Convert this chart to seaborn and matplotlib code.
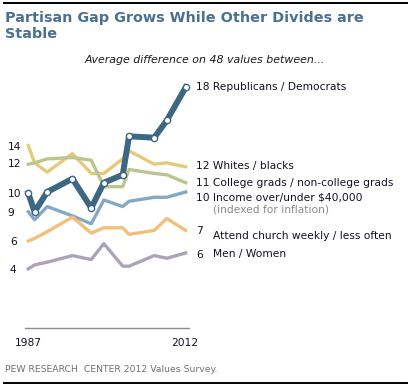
import matplotlib
matplotlib.use("Agg")
import matplotlib.pyplot as plt
import seaborn as sns
import pandas as pd
from matplotlib.lines import Line2D

# ---- data ----
years = [1987, 1988, 1990, 1994, 1997, 1999, 2002, 2003, 2007, 2009, 2012]
rep_dem = [10.0, 8.6, 10.1, 11.1, 8.9, 10.8, 11.4, 14.3, 14.2, 15.5, 18.0]
whites_blacks = [13.6, 12.3, 11.6, 13.0, 11.5, 11.5, 12.6, 13.2, 12.2, 12.3, 12.0]
college = [12.2, 12.3, 12.6, 12.7, 12.5, 10.5, 10.5, 11.8, 11.5, 11.4, 10.8]
income = [8.6, 8.0, 9.0, 8.3, 7.7, 9.5, 9.0, 9.4, 9.7, 9.7, 10.1]
church = [6.4, 6.6, 7.1, 8.2, 7.0, 7.4, 7.4, 6.9, 7.2, 8.1, 7.2]
men_women = [4.3, 4.6, 4.8, 5.3, 5.0, 6.2, 4.5, 4.5, 5.3, 5.1, 5.5]

series_names = ["Whites / blacks", "College grads / non-college grads",
                "Income over/under $40,000", "Attend church weekly / less often",
                "Men / Women", "Republicans / Democrats"]
series_values = [whites_blacks, college, income, church, men_women, rep_dem]
colors = ["#E6C97A", "#BCC68C", "#85A8C4", "#F2C07A", "#ADA3B8", "#3E6783"]

start_labels = ["14", "12", "10", "9", "6", "4"]
end_labels = ["18", "12", "11", "10", "7", "6"]

rows = []
for name, vals in zip(series_names, series_values):
    for y, v in zip(years, vals):
        rows.append({"year": y, "value": v, "series": name})
df = pd.DataFrame(rows)

W, H = 411, 388
fig = plt.figure(figsize=(W / 100, H / 100), dpi=100)
fig.patch.set_facecolor("white")

def fx(px):
    return px / W

def fy(py):
    return 1 - py / H

# axes occupying pixel box x 20..195, y 75..285
ax = fig.add_axes([fx(20), fy(285), (195 - 20) / W, (285 - 75) / H])
ax.set_xlim(1985.68, 2013.48)
ax.set_ylim(3.08, 18.93)
ax.axis("off")

others = df[df["series"] != "Republicans / Democrats"]
pal = dict(zip(series_names, colors))
sns.lineplot(data=others, x="year", y="value", hue="series", palette=pal,
             linewidth=2.4, legend=False, ax=ax, sort=False)
rep = df[df["series"] == "Republicans / Democrats"]
sns.lineplot(data=rep, x="year", y="value", color=colors[-1], linewidth=4.3,
             marker="o", markersize=4.5, markerfacecolor="white",
             markeredgecolor=colors[-1], markeredgewidth=1.0,
             legend=False, ax=ax, sort=False)

# ---- texts ----
title_color = "#4B7090"
fig.text(fx(5), fy(18), "Partisan Gap Grows While Other Divides are",
         fontsize=10.4, fontweight="bold", color=title_color, va="center", ha="left")
fig.text(fx(5), fy(33.5), "Stable",
         fontsize=10.4, fontweight="bold", color=title_color, va="center", ha="left")
fig.text(fx(205), fy(60), "Average difference on 48 values between...",
         fontsize=7.9, style="italic", color="#1a1a1a", va="center", ha="center")

txt = "#111122"
lsize = 7.7
# start labels
start_pos = [(14.5, 147.5), (14.5, 164), (14.5, 194), (11, 213), (13.5, 242), (13, 270)]
for lab, (x, y) in zip(start_labels, start_pos):
    fig.text(fx(x), fy(y), lab, fontsize=lsize, color=txt, ha="center", va="center")

# end labels
fig.text(fx(196), fy(87.5), end_labels[0] + " Republicans / Democrats",
         fontsize=lsize, color=txt, ha="left", va="center")
fig.text(fx(196), fy(166), end_labels[1] + " Whites / blacks",
         fontsize=lsize, color=txt, ha="left", va="center")
fig.text(fx(196), fy(183.3), end_labels[2] + " College grads / non-college grads",
         fontsize=lsize, color=txt, ha="left", va="center")
fig.text(fx(196), fy(197.5), end_labels[3] + " Income over/under $40,000",
         fontsize=lsize, color=txt, ha="left", va="center")
fig.text(fx(213), fy(209.5), "(indexed for inflation)",
         fontsize=lsize, color="#8a8a8a", ha="left", va="center")
fig.text(fx(196), fy(230.5), end_labels[4],
         fontsize=lsize, color=txt, ha="left", va="center")
fig.text(fx(213), fy(236), "Attend church weekly / less often",
         fontsize=lsize, color=txt, ha="left", va="center")
fig.text(fx(196), fy(254.5), end_labels[5],
         fontsize=lsize, color=txt, ha="left", va="center")
fig.text(fx(213), fy(254.5), "Men / Women",
         fontsize=lsize, color=txt, ha="left", va="center")

# x axis line and labels
fig.add_artist(Line2D([fx(25), fx(188.5)], [fy(328.3), fy(328.3)],
                      color="#8c8c8c", linewidth=1.0))
fig.text(fx(28.3), fy(342.7), "1987", fontsize=lsize, color=txt, ha="center", va="center")
fig.text(fx(185), fy(342.7), "2012", fontsize=lsize, color=txt, ha="center", va="center")

# footer
fig.text(fx(5), fy(370), "PEW RESEARCH  CENTER 2012 Values Survey.",
         fontsize=6.7, color="#707070", ha="left", va="center")

# top and bottom rules
fig.add_artist(Line2D([fx(4), fx(407)], [fy(3.3), fy(3.3)], color="black", linewidth=1.4))
fig.add_artist(Line2D([fx(4), fx(407)], [fy(383.3), fy(383.3)], color="black", linewidth=1.4))

fig.savefig("out.png", dpi=100, facecolor="white")
